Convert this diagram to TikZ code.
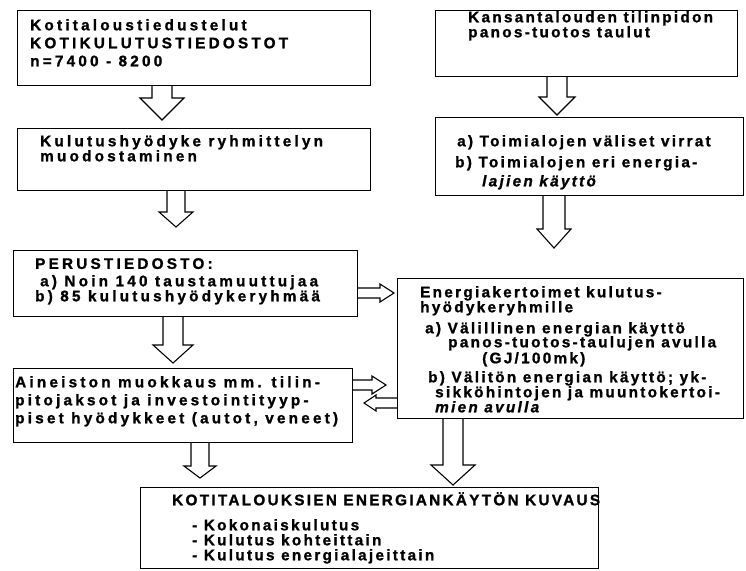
\documentclass[tikz,border=0pt]{standalone}
\usepackage{fontspec}
\newfontfamily\flowfont[LetterSpace=15, FakeBold=1.2, ItalicFont={Liberation Sans Bold Italic}]{Liberation Sans Bold}
\usetikzlibrary{calc}

\tikzset{
  box/.style={draw, line width=1.2pt, anchor=north west, inner sep=0pt},
  txt/.style={anchor=north west, align=left, inner sep=0pt,
    font=\flowfont\fontsize{15.3}{15}\selectfont},
  spaced/.style={font=\flowfont\addfontfeatures{LetterSpace=21}\fontsize{15.3}{15}\selectfont},
  loose/.style={font=\flowfont\addfontfeatures{LetterSpace=21}\fontsize{15.3}{18}\selectfont},
  shaft/.code={\def\shw{#1}},
  head/.code 2 args={\def\hdw{#1}\def\hdl{#2}},
  fat/.style={line width=1.1pt, line join=miter, shaft=10pt, head={20pt}{18pt}},
  fatdown/.style={fat, to path={let \p1=(\tikztostart), \p2=(\tikztotarget) in
    (\x1-\shw,\y1) -- (\x1-\shw,\y2+\hdl) -- (\x1-\hdw,\y2+\hdl) -- (\x1,\y2)
    -- (\x1+\hdw,\y2+\hdl) -- (\x1+\shw,\y2+\hdl) -- (\x1+\shw,\y1)}},
  fatright/.style={fat, shaft=5pt, head={9pt}{14pt}, to path={let \p1=(\tikztostart), \p2=(\tikztotarget) in
    (\x1,\y1+\shw) -- (\x2-\hdl,\y1+\shw) -- (\x2-\hdl,\y1+\hdw) -- (\x2,\y1)
    -- (\x2-\hdl,\y1-\hdw) -- (\x2-\hdl,\y1-\shw) -- (\x1,\y1-\shw)}},
  fatleft/.style={fat, shaft=5pt, head={8pt}{12pt}, to path={let \p1=(\tikztostart), \p2=(\tikztotarget) in
    (\x1,\y1+\shw) -- (\x2+\hdl,\y1+\shw) -- (\x2+\hdl,\y1+\hdw) -- (\x2,\y1)
    -- (\x2+\hdl,\y1-\hdw) -- (\x2+\hdl,\y1-\shw) -- (\x1,\y1-\shw)}},
}

\begin{document}
\begin{tikzpicture}[x=1pt, y=-1pt]

	\useasboundingbox (0,0) rectangle (746,570);

	% boxes
	\node[box, minimum width=353pt, minimum height=75pt] (kt) at (17,10) {};
	\node[box, minimum width=302pt, minimum height=66pt] (kp) at (435,10) {};
	\node[box, minimum width=353pt, minimum height=62pt] (ku) at (17,128) {};
	\node[box, minimum width=308pt, minimum height=78pt] (tm) at (435,117) {};
	\node[box, minimum width=344pt, minimum height=66pt] (pe) at (13,250) {};
	\node[box, minimum width=346pt, minimum height=140pt] (ek) at (397,278) {};
	\node[box, minimum width=339pt, minimum height=74pt] (ai) at (13,368) {};
	\node[box, minimum width=458pt, minimum height=81pt] (kk) at (140,487) {};

	% texts
	\node[txt, loose] (kt1) at (30,19) {Kotitaloustiedustelut\\KOTIKULUTUSTIEDOSTOT\\ n=7400 - 8200};
	\node[txt] (kp1) at (468,11) {Kansantalouden tilinpidon\\panos-tuotos taulut};
	\node[txt, spaced] (ku1) at (40,135) {Kulutushyödyke ryhmittelyn\\muodostaminen};
	\node[txt] (tm1) at (457,135) {a) Toimialojen väliset virrat};
	\node[txt] (tm2) at (455,156) {b) Toimialojen eri energia-};
	\node[txt] (tm3) at (482,175) {\itshape lajien käyttö};
	\node[txt, spaced] (pe1) at (35,258) {PERUSTIEDOSTO:};
	\node[txt, spaced] (pe2) at (40,275) {a) Noin 140 taustamuuttujaa};
	\node[txt, spaced] (pe3) at (35,290) {b) 85 kulutushyödykeryhmää};
	\node[txt, loose] (ai1) at (15,376) {Aineiston muokkaus mm. tilin-\\pitojaksot ja investointityyp-\\piset hyödykkeet (autot, veneet)};
	\node[txt] (ek1) at (420,286) {Energiakertoimet kulutus-\\hyödykeryhmille};
	\node[txt] (ek2) at (425,322) {a) Välillinen energian käyttö};
	\node[txt] (ek3) at (448,336) {panos-tuotos-taulujen avulla};
	\node[txt] (ek4) at (482,352) {(GJ/100mk)};
	\node[txt] (ek5) at (428,371) {b) Välitön energian käyttö; yk-};
	\node[txt] (ek6) at (435,386) {sikköhintojen ja muuntokertoi-};
	\node[txt] (ek7) at (435,401) {\itshape mien avulla};
	\node[txt] (kk1) at (172,492) {KOTITALOUKSIEN ENERGIANKÄYTÖN KUVAUS};
	\node[txt] (kk2) at (192,519) {- Kokonaiskulutus\\- Kulutus kohteittain\\- Kulutus energialajeittain};

	% arrow tips
	\coordinate (a1) at (162,120);
	\coordinate (a2) at (176,227);
	\coordinate (a3) at (173,363);
	\coordinate (a4) at (557,115);
	\coordinate (a5) at (554,248);
	\coordinate (a6) at (394,293);
	\coordinate (a7) at (386,385);
	\coordinate (a8) at (364,403);
	\coordinate (a9) at (200,478);
	\coordinate (a10) at (453,485);

	% arrows
	\draw[fatdown, head={22pt}{22pt}] (kt.south -| a1) to (a1);
	\draw[fatdown, shaft=9pt, head={17pt}{15pt}] (ku.south -| a2) to (a2);
	\draw[fatdown] (pe.south -| a3) to (a3);
	\draw[fatdown, head={18pt}{18pt}] (kp.south -| a4) to (a4);
	\draw[fatdown, shaft=11pt, head={17pt}{19pt}] (tm.south -| a5) to (a5);
	\draw[fatright] (pe.east |- a6) to (a6);
	\draw[fatright] (ai.east |- a7) to (a7);
	\draw[fatleft] (ek.west |- a8) to (a8);
	\draw[fatdown, shaft=9pt, head={16pt}{12pt}] (ai.south -| a9) to (a9);
	\draw[fatdown, head={22pt}{20pt}] (ek.south -| a10) to (a10);

\end{tikzpicture}
\end{document}
